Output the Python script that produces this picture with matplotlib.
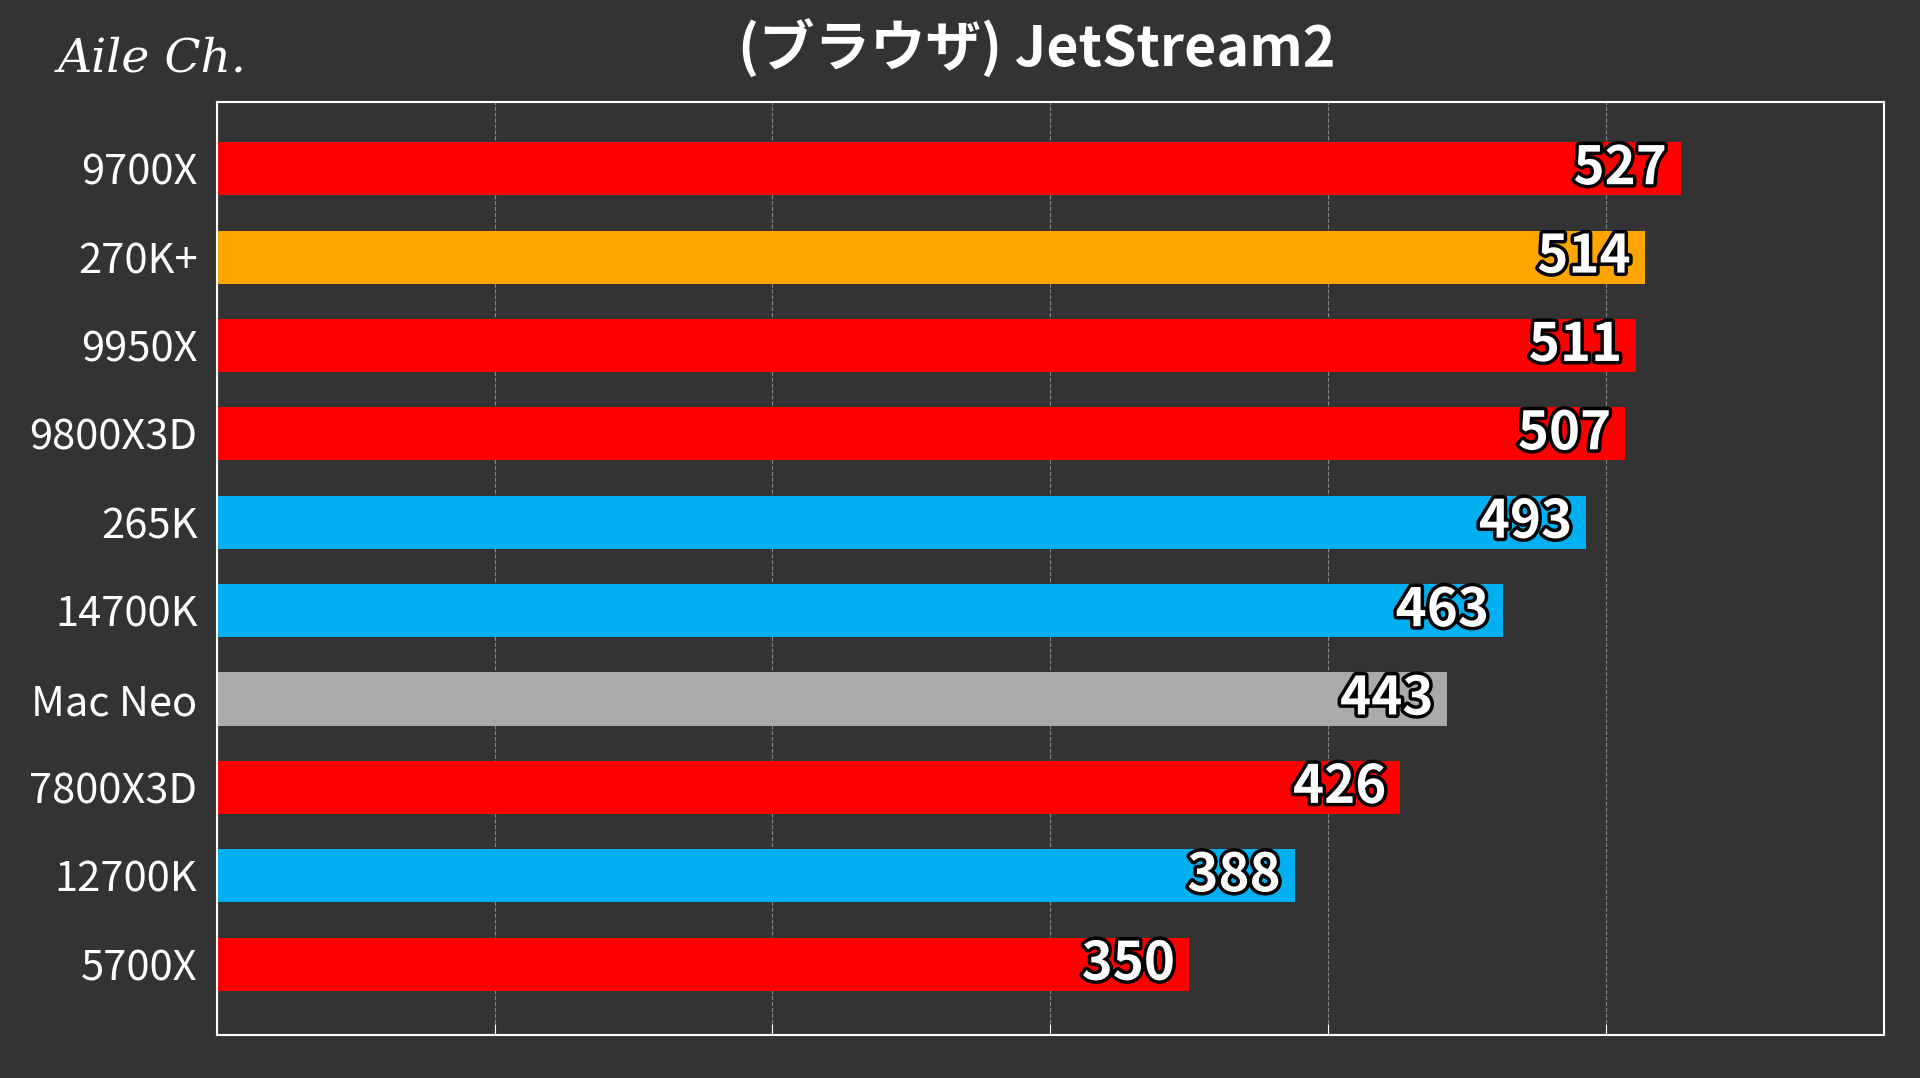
import matplotlib
matplotlib.use("Agg")
import matplotlib.pyplot as plt
import matplotlib.patheffects as pe

plt.rcParams['font.family'] = ['Noto Sans CJK JP', 'DejaVu Sans']

names = ["9700X", "270K+", "9950X", "9800X3D", "265K", "14700K", "Mac Neo",
         "7800X3D", "12700K", "5700X"]
scores = [527, 514, 511, 507, 493, 463, 443, 426, 388, 350]
colors = ["#ff0000", "#ffa500", "#ff0000", "#ff0000", "#00b0f0", "#00b0f0",
          "#aaaaaa", "#ff0000", "#00b0f0", "#ff0000"]

bg = "#333333"
fig = plt.figure(figsize=(19.2, 10.78), dpi=100, facecolor=bg)
ax = fig.add_axes([0.113, 0.04, 0.868, 0.865], facecolor=bg)

y = list(range(len(names)))
ax.barh(y, scores, height=0.6, color=colors, zorder=2)
ax.set_ylim(len(names) - 0.2, -0.75)
ax.set_xlim(0, 600)
ax.set_xticks(range(0, 601, 100))
ax.set_xticklabels([])
ax.grid(axis='x', color='#888888', linestyle='--', linewidth=0.8, zorder=0)
ax.set_yticks(y)
ax.set_yticklabels(names, color='white', fontsize=30)
ax.tick_params(axis='y', length=0, pad=14)
ax.tick_params(axis='x', colors='white', length=8, direction='in')
for s in ax.spines.values():
    s.set_color('white')
    s.set_linewidth(1.5)

for yi, v in zip(y, scores):
    ax.text(v - 5, yi, str(v), ha='right', va='center', color='white',
            fontsize=38, fontweight='bold', zorder=3,
            path_effects=[pe.withStroke(linewidth=5, foreground='black')])

fig.text(0.54, 0.955, "(ブラウザ) JetStream2", ha='center', va='center',
         color='white', fontsize=40, fontweight='bold')
fig.text(0.03, 0.945, "Aile Ch.", ha='left', va='center', color='white',
         fontsize=34, style='italic', family=['DejaVu Serif'])

fig.savefig("out.png", facecolor=bg)
